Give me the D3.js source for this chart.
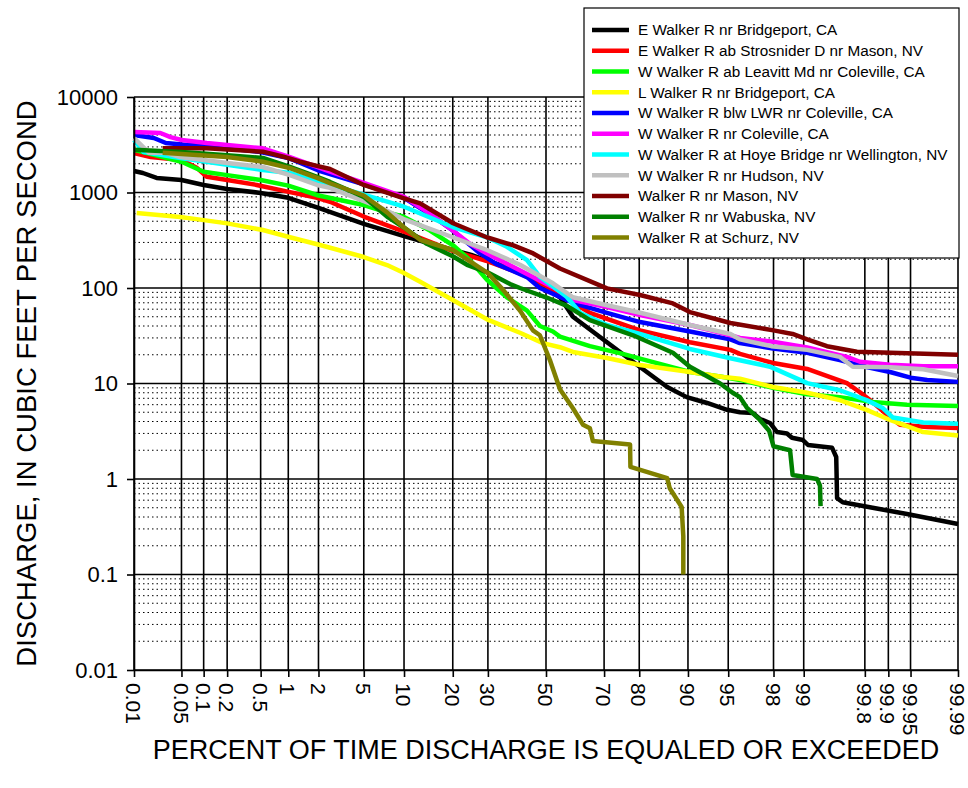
<!DOCTYPE html>
<html>
<head>
<meta charset="utf-8">
<title>Walker River flow duration</title>
<style>
  body { margin: 0; background: #fff; }
  svg text { font-family: Arial, "Liberation Sans", sans-serif; fill: #000; }
</style>
</head>
<body>
<script src="https://cdn.jsdelivr.net/npm/d3@7"></script>
<script>
// tick labels
var percentTicks = [0.01, 0.05, 0.1, 0.2, 0.5, 1, 2, 5, 10, 20, 30, 50, 70, 80, 90, 95, 98, 99, 99.8, 99.9, 99.95, 99.99];
var dischargeTicks = [0.01, 0.1, 1, 10, 100, 1000, 10000];

// stations, in legend order
var stationNames = [
  "E Walker R nr Bridgeport, CA",
  "E Walker R ab Strosnider D nr Mason, NV",
  "W Walker R ab Leavitt Md nr Coleville, CA",
  "L Walker R nr Bridgeport, CA",
  "W Walker R blw LWR nr Coleville, CA",
  "W Walker R nr Coleville, CA",
  "W Walker R at Hoye Bridge nr Wellington, NV",
  "W Walker R nr Hudson, NV",
  "Walker R nr Mason, NV",
  "Walker R nr Wabuska, NV",
  "Walker R at Schurz, NV"
];
var stationColors = ["#000000", "#ff0000", "#00ff00", "#ffff00", "#0000ff", "#ff00ff",
                     "#00ffff", "#c0c0c0", "#800000", "#008000", "#808000"];

// [percent exceeded, discharge cfs]
var eWalkerBridgeport = [[0.01,1680],[0.0137,1600],[0.022,1420],[0.05,1350],[0.1,1200],[0.2,1090],[0.5,990],[1,880],[2,690],[5,470],[10,350],[20,250],[25,222],[30,192],[40,150],[50,100],[55,80],[59.6,50],[70.9,27],[80.2,14.9],[86.3,9.2],[89.8,7.2],[92.7,6.25],[94.9,5.3],[96,5.0],[96.9,4.9],[97.33,4.25],[97.84,3.86],[98.15,3.1],[98.52,3.0],[98.68,2.7],[98.98,2.56],[99.1,2.27],[99.51,2.12],[99.56,1.7],[99.57,0.63],[99.63,0.57],[99.84,0.5],[99.944,0.43],[99.99,0.338]];
var eWalkerStrosnider = [[0.01,2590],[0.018,2350],[0.05,2190],[0.082,1800],[0.11,1460],[0.2,1350],[0.45,1200],[1.04,1010],[1.94,880],[2.56,800],[5,560],[10,390],[20,245],[30,190],[40,145],[50,105],[65.4,55],[80.2,36],[90.3,27],[95.2,22.5],[96,20.4],[97.98,16.4],[99.08,14.2],[99.67,10.1],[99.77,8.1],[99.84,6.4],[99.896,4.7],[99.93,3.7],[99.971,3.5],[99.99,3.43]];
var wWalkerLeavitt = [[0.01,2800],[0.05,2100],[0.1,1650],[0.2,1520],[0.5,1350],[1,1180],[2,930],[5,740],[7.56,620],[9.84,560],[14.75,400],[20.06,280],[24.6,196],[29.7,122],[36.2,80],[43.2,58],[47.8,40],[52.5,35],[55,31],[65.4,24.6],[75.6,20.4],[80.2,18.2],[90.3,13.2],[94.5,11.7],[96,10.9],[97.98,9.0],[99.08,7.7],[99.6,7.2],[99.84,6.4],[99.944,6.0],[99.99,5.8]];
var lWalkerBridgeport = [[0.011,610],[0.048,555],[0.09,520],[0.2,475],[0.53,405],[1.04,340],[2.07,282],[5,211],[7.56,174],[9.84,145],[12.8,116],[20,75],[29.7,47],[40.7,34],[48.9,26.5],[55,24],[59.6,21.4],[70.9,18.5],[80.2,15.6],[90.3,13.2],[94.5,11.7],[96,11.2],[97.98,9.2],[99.08,8.0],[99.6,6.7],[99.81,5.3],[99.905,4.15],[99.967,3.1],[99.99,2.85]];
var wWalkerLWR = [[0.01,4000],[0.02,3720],[0.03,3300],[0.06,3150],[0.1,3100],[0.2,2900],[0.5,2650],[1,2300],[2,1700],[5,1220],[10,880],[15,580],[20,400],[27.6,230],[32.5,180],[43.2,130],[47.8,100],[59.6,70],[70.9,55],[80.2,44],[90.3,35],[95.2,29],[96,26.5],[97.98,23.3],[99.08,21],[99.6,17.6],[99.81,14.9],[99.905,13.2],[99.95,11.5],[99.971,10.9],[99.99,10.4]];
var wWalkerColeville = [[0.01,4300],[0.025,4200],[0.035,3800],[0.05,3550],[0.11,3300],[0.2,3150],[0.53,2900],[1.04,2350],[1.94,1850],[2.56,1650],[5,1260],[10,900],[14.75,600],[20,400],[24.6,290],[29.7,230],[36.2,180],[45.3,130],[52.5,102],[59.6,75],[70.9,63],[80.2,52],[90.3,41],[95.2,32],[96,30],[97.9,27.5],[99.08,23.9],[99.67,19],[99.77,16.9],[99.905,15.7],[99.967,15.2],[99.99,15.2]];
var wWalkerHoye = [[0.01,3550],[0.014,2650],[0.048,2300],[0.2,1950],[0.53,1720],[1.04,1600],[1.94,1290],[2.56,1200],[5,950],[10,710],[20,435],[29.7,340],[36.2,270],[43.2,196],[47.8,131],[57.4,81],[62.1,55],[70.9,41],[80.2,33],[90.3,23],[95.2,18.4],[97.84,15],[99.08,10.1],[99.6,8.5],[99.81,6.7],[99.883,5.5],[99.913,4.4],[99.967,3.9],[99.99,3.8]];
var wWalkerHudson = [[0.01,3700],[0.017,2600],[0.03,2600],[0.048,2350],[0.2,2040],[0.53,1850],[1.04,1520],[1.94,1200],[2.56,1120],[6.7,700],[9.84,530],[20,340],[29.7,250],[40.7,175],[52.5,112],[59.6,80],[70.9,66],[80.2,55],[90.3,41],[95.2,33],[96,29],[97.9,24.6],[99.08,22.5],[99.6,19],[99.72,15],[99.905,14.8],[99.967,14.1],[99.99,12]];
var walkerMason = [[0.027,2900],[0.11,2900],[0.53,2670],[0.64,2570],[0.89,2370],[1.32,2100],[1.93,1900],[2.56,1760],[5,1200],[10,870],[12.8,770],[20.1,476],[29.6,340],[38.4,280],[45.4,230],[55,160],[70.9,99],[80.2,84.5],[87.4,69],[90.3,56],[95.2,43],[98,36],[98.7,33],[99.08,29],[99.44,24.6],[99.75,21.5],[99.99,20]];
var walkerWabuska = [[0.01,2800],[0.05,2650],[0.2,2460],[0.53,2300],[1.04,1850],[1.94,1460],[2.56,1290],[5,900],[7.56,560],[10,430],[14.1,290],[20,215],[23.8,175],[30,145],[37.3,110],[40.7,100],[50,80],[57.5,65],[65.4,46],[78.4,32],[87.4,21],[90.3,15],[94.2,10],[95.4,8],[96,7.2],[96.5,5.6],[97.3,4.2],[97.8,3.2],[98.0,2.2],[98.62,2.0],[98.7,1.1],[99.28,1.0],[99.33,0.85],[99.34,0.52]];
var walkerSchurz = [[0.027,2600],[0.2,2350],[0.53,2100],[1.04,1800],[1.94,1420],[2.56,1250],[5,930],[7.56,620],[10,430],[12.8,320],[20,250],[30,143],[35,95],[40.7,58],[45.3,36],[47.8,32],[51.4,17.6],[55,8.7],[59.6,5.5],[63.1,3.7],[65.4,3.4],[66.4,2.5],[77.6,2.3],[77.7,1.34],[86.3,1.02],[86.8,0.8],[88.96,0.51],[89.24,0.25],[89.24,0.1]];

var allSeries = [eWalkerBridgeport, eWalkerStrosnider, wWalkerLeavitt, lWalkerBridgeport, wWalkerLWR,
                 wWalkerColeville, wWalkerHoye, wWalkerHudson, walkerMason, walkerWabuska, walkerSchurz];

// inverse normal cdf (Acklam), percent -> z
function probit(pct) {
  var p = pct / 100;
  var a = [-3.969683028665376e+01, 2.209460984245205e+02, -2.759285104469687e+02, 1.383577518672690e+02, -3.066479806614716e+01, 2.506628277459239e+00];
  var b = [-5.447609879822406e+01, 1.615858368580409e+02, -1.556989798598866e+02, 6.680131188771972e+01, -1.328068155288572e+01];
  var c = [-7.784894002430293e-03, -3.223964580411365e-01, -2.400758277161838e+00, -2.549732539343734e+00, 4.374664141464968e+00, 2.938163982698783e+00];
  var d = [7.784695709041462e-03, 3.224671290700398e-01, 2.445134137142996e+00, 3.754408661907416e+00];
  var q, r;
  if (p < 0.02425) {
    q = Math.sqrt(-2 * Math.log(p));
    return (((((c[0]*q+c[1])*q+c[2])*q+c[3])*q+c[4])*q+c[5]) / ((((d[0]*q+d[1])*q+d[2])*q+d[3])*q+1);
  } else if (p <= 1 - 0.02425) {
    q = p - 0.5; r = q * q;
    return (((((a[0]*r+a[1])*r+a[2])*r+a[3])*r+a[4])*r+a[5])*q / (((((b[0]*r+b[1])*r+b[2])*r+b[3])*r+b[4])*r+1);
  } else {
    q = Math.sqrt(-2 * Math.log(1 - p));
    return -(((((c[0]*q+c[1])*q+c[2])*q+c[3])*q+c[4])*q+c[5]) / ((((d[0]*q+d[1])*q+d[2])*q+d[3])*q+1);
  }
}

var margin = {top: 97, right: 10, bottom: 118, left: 134};
var width = 968 - margin.left - margin.right,
    height = 788 - margin.top - margin.bottom;

var x = d3.scaleLinear().domain([probit(0.01), probit(99.99)]).range([0, width]);
var y = d3.scaleLog().domain([0.01, 10000]).range([height, 0]);

var svg = d3.select("body").append("svg")
  .attr("width", 968).attr("height", 788);
var g = svg.append("g").attr("transform", "translate(" + margin.left + "," + margin.top + ")");

// minor dotted horizontal grid
var minorVals = [];
dischargeTicks.slice(0, -1).forEach(function(dv) {
  for (var k = 2; k <= 9; k++) minorVals.push(dv * k);
});
g.selectAll(".minor").data(minorVals).join("line")
  .attr("x1", 0).attr("x2", width)
  .attr("y1", function(d) { return y(d); }).attr("y2", function(d) { return y(d); })
  .attr("stroke", "#000").attr("stroke-width", 1).attr("stroke-dasharray", "1.5,3");

// major grid
g.selectAll(".hmajor").data(dischargeTicks).join("line")
  .attr("x1", 0).attr("x2", width)
  .attr("y1", function(d) { return y(d); }).attr("y2", function(d) { return y(d); })
  .attr("stroke", "#000").attr("stroke-width", 1.6);
g.selectAll(".vmajor").data(percentTicks).join("line")
  .attr("x1", function(d) { return x(probit(d)); }).attr("x2", function(d) { return x(probit(d)); })
  .attr("y1", 0).attr("y2", height)
  .attr("stroke", "#000").attr("stroke-width", 1.6);

// flow duration curves
var line = d3.line()
  .x(function(d) { return x(probit(d[0])); })
  .y(function(d) { return y(d[1]); });

g.selectAll(".series").data(allSeries).join("path")
  .attr("fill", "none")
  .attr("stroke", function(d, i) { return stationColors[i]; })
  .attr("stroke-width", 4.5)
  .attr("stroke-linejoin", "round")
  .attr("d", line);

// axes
var yAxis = g.append("g")
  .call(d3.axisLeft(y).tickValues(dischargeTicks).tickFormat(function(d) { return String(d); })
    .tickSize(7).tickSizeOuter(0).tickPadding(9));
yAxis.selectAll("text").style("font-size", "22px");
yAxis.selectAll("line, path").attr("stroke", "#000").attr("stroke-width", 1.6);

var xAxis = g.append("g")
  .attr("transform", "translate(0," + height + ")")
  .call(d3.axisBottom(x).tickValues(percentTicks.map(probit))
    .tickFormat(function(d, i) { return percentTicks[i]; })
    .tickSize(7).tickSizeOuter(0));
xAxis.selectAll("line, path").attr("stroke", "#000").attr("stroke-width", 1.6);
xAxis.selectAll("text")
  .style("font-size", "21px")
  .style("text-anchor", "start")
  .attr("x", 13).attr("y", 0).attr("dy", "0.4em")
  .attr("transform", "rotate(90)");

// axis titles
svg.append("text")
  .attr("x", margin.left + width / 2).attr("y", 759)
  .attr("text-anchor", "middle")
  .style("font-size", "27px")
  .text("PERCENT OF TIME DISCHARGE IS EQUALED OR EXCEEDED");

svg.append("text")
  .attr("transform", "translate(36," + (margin.top + height / 2) + ") rotate(-90)")
  .attr("text-anchor", "middle")
  .style("font-size", "27.5px")
  .text("DISCHARGE, IN CUBIC FEET PER SECOND");

// legend
var legend = svg.append("g").attr("transform", "translate(584,8)");
legend.append("rect")
  .attr("width", 375).attr("height", 250)
  .attr("fill", "#fff").attr("stroke", "#000").attr("stroke-width", 1.2);
var rows = legend.selectAll(".row").data(stationNames).join("g")
  .attr("transform", function(d, i) { return "translate(0," + (22 + i * 20.75) + ")"; });
rows.append("line")
  .attr("x1", 8).attr("x2", 45)
  .attr("stroke", function(d, i) { return stationColors[i]; })
  .attr("stroke-width", 4.5);
rows.append("text")
  .attr("x", 54).attr("dy", "0.35em")
  .style("font-size", "15.3px")
  .text(function(d) { return d; });
</script>
</body>
</html>
